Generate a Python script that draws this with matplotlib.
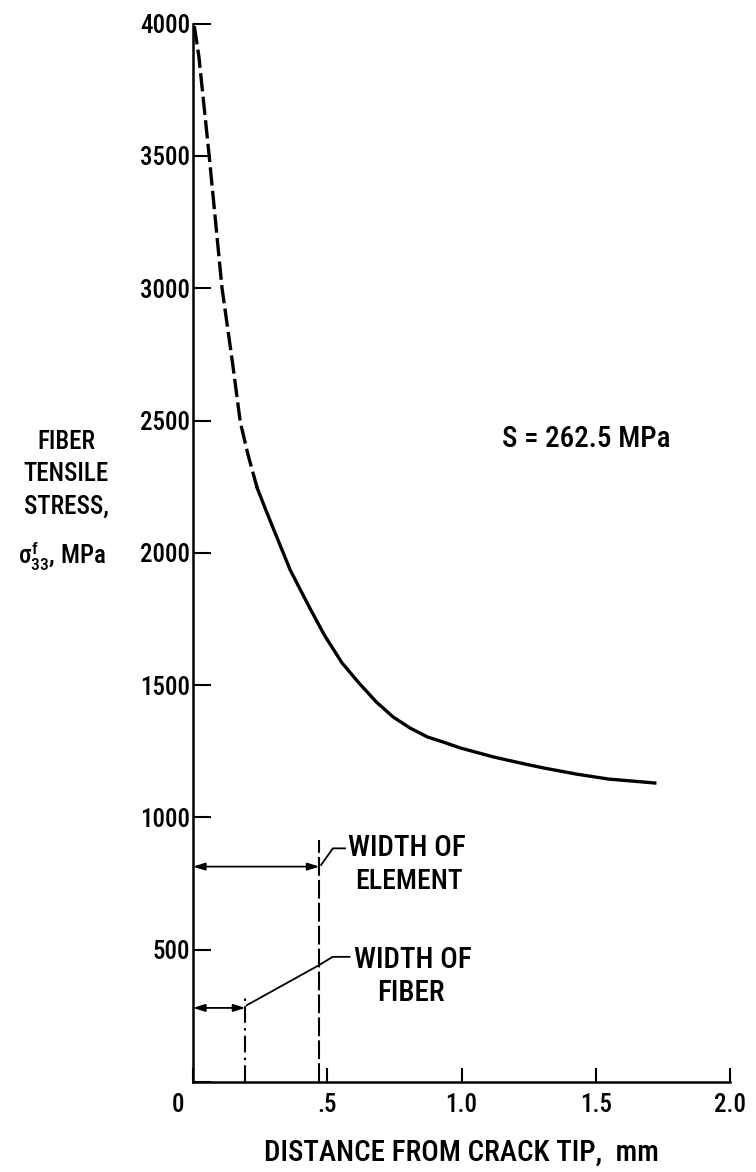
import matplotlib
matplotlib.use('Agg')
import matplotlib.pyplot as plt

# fiber stress ahead of the crack tip
dist_dashed = [0.005, 0.022, 0.060, 0.108, 0.147, 0.176, 0.205, 0.239]
stress_dashed = [3990, 3875, 3503, 3001, 2720, 2495, 2370, 2245]

dist_solid = [0.239, 0.268, 0.297, 0.362, 0.433, 0.491, 0.555, 0.618, 0.683,
              0.746, 0.808, 0.873, 0.940, 0.997, 1.121, 1.235, 1.305, 1.426,
              1.547, 1.720]
stress_solid = [2245, 2170, 2097, 1935, 1795, 1686, 1584, 1508, 1436,
                1379, 1338, 1304, 1282, 1262, 1228, 1202, 1187, 1164,
                1145, 1130]

x_ticks = [0, 0.5, 1.0, 1.5, 2.0]
x_tick_labels = ['0', '.5', '1.0', '1.5', '2.0']
y_ticks = [0, 500, 1000, 1500, 2000, 2500, 3000, 3500, 4000]
y_tick_labels = ['', '500', '1000', '1500', '2000', '2500', '3000', '3500', '4000']

# widths marked at the bottom (mm) and heights of the marks (MPa)
element_width = 0.471
element_top = 915
element_arrow = 814
fiber_width = 0.195
fiber_top = 317
fiber_arrow = 280

FONT = ['Roboto Condensed', 'Liberation Sans Narrow', 'DejaVu Sans']
plt.rcParams['font.family'] = FONT
plt.rcParams['font.stretch'] = 'condensed'
plt.rcParams['font.weight'] = 'medium'
plt.rcParams['mathtext.fontset'] = 'custom'
plt.rcParams['mathtext.rm'] = 'Roboto Condensed:medium'
plt.rcParams['mathtext.it'] = 'Roboto Condensed:medium'

fig = plt.figure(figsize=(7.56, 11.72), dpi=100)
ax = fig.add_axes([193 / 756, 90 / 1172, 537 / 756, 1058.4 / 1172])

# curve
ax.plot(dist_dashed, stress_dashed, color='black', lw=2.4,
        dashes=(5.5, 1.6), clip_on=False)
ax.plot(dist_solid, stress_solid, color='black', lw=2.4, clip_on=False,
        solid_joinstyle='round')

# width of element / width of fiber marks
ax.plot([element_width, element_width], [0, element_top], color='black',
        lw=1.5, dashes=(9, 2))
ax.plot([fiber_width, fiber_width], [0, fiber_top], color='black',
        lw=1.5, dashes=(8, 2.5, 1.2, 2.5))

arrow = dict(arrowstyle='<|-|>,head_length=0.7,head_width=0.22',
             color='black', lw=1.3, shrinkA=0, shrinkB=0)
ax.annotate('', xy=(0, element_arrow), xytext=(element_width, element_arrow),
            arrowprops=arrow)
ax.annotate('', xy=(0, fiber_arrow), xytext=(fiber_width, fiber_arrow),
            arrowprops=arrow)

# leader lines
ax.plot([0.477, 0.521, 0.566], [820, 883, 883], color='black', lw=1.3)
ax.plot([fiber_width + 0.005, 0.470, 0.520, 0.583], [290, 442, 473, 473],
        color='black', lw=1.3)

ax.text(0.578, 884, 'WIDTH OF', ha='left', va='center', fontsize=21)
ax.text(0.806, 757, 'ELEMENT', ha='center', va='center', fontsize=20)
ax.text(0.600, 461, 'WIDTH OF', ha='left', va='center', fontsize=21)
ax.text(0.811, 336, 'FIBER', ha='center', va='center', fontsize=21)

ax.text(1.152, 2430, 'S = 262.5 MPa', ha='left', va='center', fontsize=21)

# axes
ax.set_xlim(0, 2.0)
ax.set_ylim(0, 4000)
for side in ['top', 'right']:
    ax.spines[side].set_visible(False)
for side in ['left', 'bottom']:
    ax.spines[side].set_linewidth(1.8)
ax.set_xticks(x_ticks)
ax.set_xticklabels([''] + x_tick_labels[1:])
ax.set_yticks(y_ticks)
ax.set_yticklabels(y_tick_labels)
ax.tick_params(axis='y', direction='in', length=13, width=1.5, pad=2,
               labelsize=18)
ax.tick_params(axis='x', direction='in', length=10, width=1.5, pad=8,
               labelsize=18)
ax.annotate('0', xy=(0, 0), xycoords='data', xytext=(-11, -8),
            textcoords='offset points', ha='center', va='top', fontsize=18)

# axis titles
fig.text(461 / 756, 1 - 1153 / 1172, 'DISTANCE FROM CRACK TIP,  mm',
         ha='center', va='center', fontsize=21)
ylabel_lines = ['FIBER', 'TENSILE', 'STRESS,']
ylabel_y = [442, 474, 507]
for txt, yy in zip(ylabel_lines, ylabel_y):
    fig.text(66 / 756, 1 - yy / 1172, txt, ha='center', va='center',
             fontsize=18)
fig.text(62 / 756, 1 - 556 / 1172, r'$\sigma^{f}_{33}$, MPa', ha='center',
         va='center', fontsize=18)

fig.savefig('out.png', dpi=100)
